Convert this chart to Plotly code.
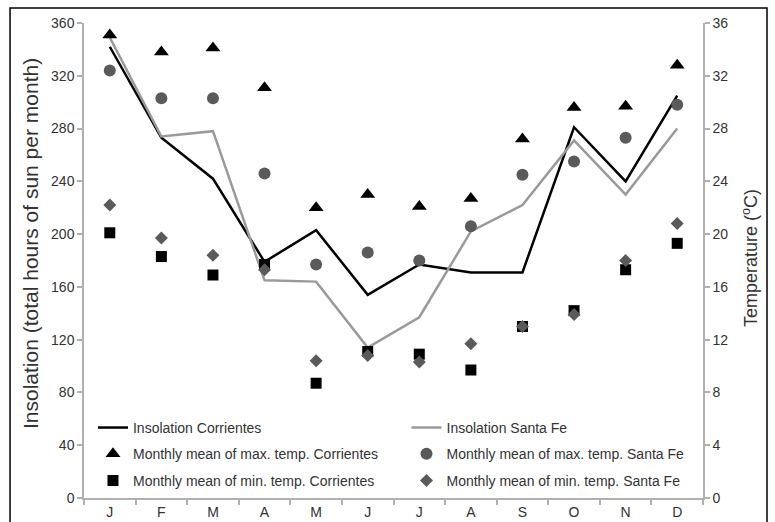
import plotly.graph_objects as go

months = ["J", "F", "M", "A", "M", "J", "J", "A", "S", "O", "N", "D"]
x = list(range(12))

insol_corrientes = [342, 273, 242, 179, 203, 154, 177, 171, 171, 281, 240, 305]
insol_santafe = [349, 274, 278, 165, 164, 114, 137, 202, 222, 271, 230, 280]
tmax_corrientes = [35.1, 33.8, 34.1, 31.1, 22.0, 23.0, 22.1, 22.7, 27.2, 29.6, 29.7, 32.8]
tmax_santafe = [32.4, 30.3, 30.3, 24.6, 17.7, 18.6, 18.0, 20.6, 24.5, 25.5, 27.3, 29.8]
tmin_corrientes = [20.1, 18.3, 16.9, 17.7, 8.7, 11.1, 10.9, 9.7, 13.0, 14.2, 17.3, 19.3]
tmin_santafe = [22.2, 19.7, 18.4, 17.3, 10.4, 10.8, 10.3, 11.7, 13.0, 13.9, 18.0, 20.8]

left_ticks = list(range(0, 361, 40))
right_ticks = list(range(0, 37, 4))

BLACK = "#000000"
DGRAY = "#5a5a5a"
LGRAY = "#9a9a9a"
AXIS = "#b0b0b0"
TXT = "#333333"
FONT = "Liberation Sans, Arial, sans-serif"

fig = go.Figure()

fig.add_trace(go.Scatter(x=x, y=insol_corrientes, mode="lines", name="Insolation Corrientes",
                         line=dict(color=BLACK, width=2.5), legend="legend"))
fig.add_trace(go.Scatter(x=x, y=insol_santafe, mode="lines", name="Insolation Santa Fe",
                         line=dict(color=LGRAY, width=2.5), legend="legend2"))
fig.add_trace(go.Scatter(x=x, y=tmax_corrientes, mode="markers", yaxis="y2",
                         name="Monthly mean of max. temp. Corrientes",
                         marker=dict(symbol="triangle-up", size=13, color=BLACK), legend="legend3"))
fig.add_trace(go.Scatter(x=x, y=tmax_santafe, mode="markers", yaxis="y2",
                         name="Monthly mean of max. temp. Santa Fe",
                         marker=dict(symbol="circle", size=12, color=DGRAY), legend="legend4"))
fig.add_trace(go.Scatter(x=x, y=tmin_corrientes, mode="markers", yaxis="y2",
                         name="Monthly mean of min. temp. Corrientes",
                         marker=dict(symbol="square", size=11, color=BLACK), legend="legend5"))
fig.add_trace(go.Scatter(x=x, y=tmin_santafe, mode="markers", yaxis="y2",
                         name="Monthly mean of min. temp. Santa Fe",
                         marker=dict(symbol="diamond", size=10, color=DGRAY), legend="legend6"))

leg_common = dict(orientation="h", xanchor="left", yanchor="middle",
                  bgcolor="rgba(0,0,0,0)", font=dict(family=FONT, size=14, color=TXT),
                  itemclick=False, itemdoubleclick=False)
col1, col2 = 0.0145, 0.521
row1, row2, row3 = 0.1475, 0.0925, 0.036

fig.update_layout(
    width=775, height=522,
    margin=dict(l=84, r=72, t=23, b=24, autoexpand=False),
    paper_bgcolor="white", plot_bgcolor="white",
    font=dict(family=FONT, size=13, color=TXT),
    showlegend=True,
    legend=dict(**leg_common, x=col1, y=row1),
    legend2=dict(**leg_common, x=col2, y=row1),
    legend3=dict(**leg_common, x=col1, y=row2),
    legend4=dict(**leg_common, x=col2, y=row2),
    legend5=dict(**leg_common, x=col1, y=row3),
    legend6=dict(**leg_common, x=col2, y=row3),
    xaxis=dict(range=[-0.5, 11.5], tickmode="array", tickvals=x, ticktext=months,
               ticks="", showgrid=False, zeroline=False, showline=True, linecolor=AXIS,
               linewidth=1.5, tickfont=dict(size=14, color=TXT), automargin=False,
               minor=dict(tickmode="array", tickvals=[i - 0.5 for i in range(13)],
                          ticks="outside", ticklen=5, tickcolor=AXIS, tickwidth=1.5, showgrid=False)),
    yaxis=dict(range=[0, 360], tickmode="array", tickvals=left_ticks, ticks="outside",
               ticklen=5, tickcolor=AXIS, tickwidth=1.5, showgrid=False, zeroline=False,
               showline=True, linecolor=AXIS, linewidth=1.5, tickfont=dict(size=14, color=TXT),
               automargin=False),
    yaxis2=dict(range=[0, 36], tickmode="array", tickvals=right_ticks, overlaying="y",
                side="right", ticks="outside", ticklen=5, tickcolor=AXIS, tickwidth=1.5,
                showgrid=False, zeroline=False, showline=True, linecolor=AXIS, linewidth=1.5,
                tickfont=dict(size=14, color=TXT), automargin=False),
    annotations=[
        dict(text="Insolation (total hours of sun per month)", textangle=-90,
             xref="paper", yref="paper", x=-0.0872, y=0.5347, xanchor="center", yanchor="middle",
             showarrow=False, font=dict(family=FONT, size=21, color=TXT)),
        dict(text="Temperature (<sup>o</sup>C)", textangle=-90,
             xref="paper", yref="paper", x=1.0759, y=0.505, xanchor="center", yanchor="middle",
             showarrow=False, font=dict(family=FONT, size=18, color=TXT)),
    ],
    shapes=[dict(type="rect", xref="paper", yref="paper", x0=-0.1195, x1=1.1034,
                 y0=-0.2, y1=1.0316, line=dict(color="black", width=1.5), layer="above")],
)

fig.write_html("out.html")
